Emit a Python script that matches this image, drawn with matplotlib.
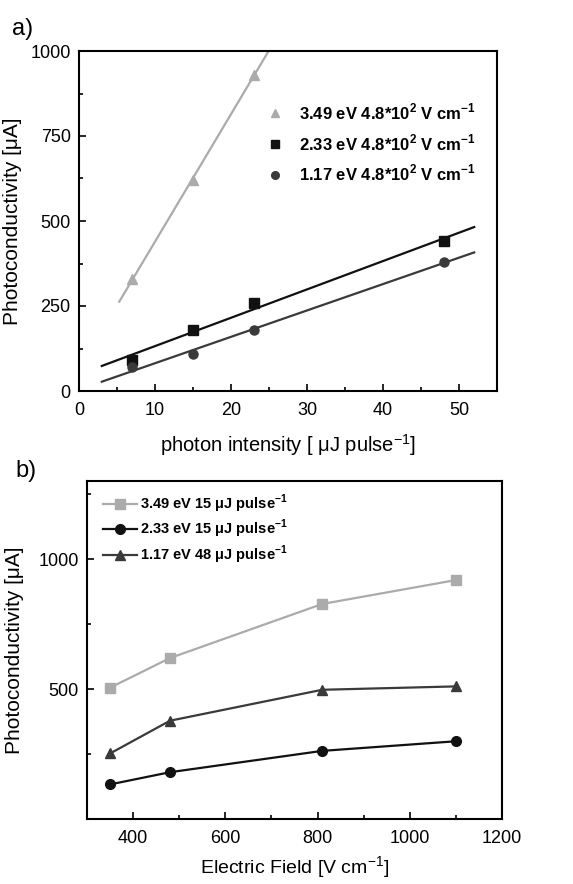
import numpy as np
import matplotlib
matplotlib.use("Agg")
import matplotlib.pyplot as plt
from matplotlib.ticker import MultipleLocator, FixedLocator

plt.rcParams['font.family'] = ['Liberation Sans', 'DejaVu Sans']
plt.rcParams['mathtext.fontset'] = 'custom'
plt.rcParams['mathtext.rm'] = 'Liberation Sans'
plt.rcParams['mathtext.bf'] = 'Liberation Sans:bold'

# ---- panel a data ----
a_labels = ["3.49 eV 4.8*10$^{\\mathbf{2}}$ V cm$^{\\mathbf{-1}}$",
            "2.33 eV 4.8*10$^{\\mathbf{2}}$ V cm$^{\\mathbf{-1}}$",
            "1.17 eV 4.8*10$^{\\mathbf{2}}$ V cm$^{\\mathbf{-1}}$"]
a_x_349 = [7, 15, 23]
a_y_349 = [330, 620, 930]
a_x_233 = [7, 15, 23, 48]
a_y_233 = [90, 180, 260, 440]
a_x_117 = [7, 15, 23, 48]
a_y_117 = [70, 108, 180, 380]
a_fit_range_349 = [5.3, 24.9]
a_fit_range_233 = [3, 52]
a_fit_range_117 = [3, 52]

# ---- panel b data ----
b_labels = ["3.49 eV 15 μJ pulse$^{\\mathbf{-1}}$",
            "2.33 eV 15 μJ pulse$^{\\mathbf{-1}}$",
            "1.17 eV 48 μJ pulse$^{\\mathbf{-1}}$"]
b_field = [350, 480, 810, 1100]
b_y_349 = [505, 619, 827, 919]
b_y_233 = [133, 180, 262, 299]
b_y_117 = [252, 378, 497, 510]

c_light = '#ababab'
c_black = '#111111'
c_dark = '#3a3a3a'

fig = plt.figure(figsize=(5.73, 8.84), dpi=100)
W, H = 573, 884
axa = fig.add_axes([79 / W, 1 - 391 / H, (497 - 79) / W, (391 - 51) / H])
axb = fig.add_axes([87 / W, 1 - 819 / H, (502 - 87) / W, (819 - 481) / H])

def style(ax):
    for s in ax.spines.values():
        s.set_linewidth(1.5)
    ax.tick_params(which='both', direction='in', top=False, right=False,
                   labelsize=13, width=1.2)
    ax.tick_params(which='major', length=5)
    ax.tick_params(which='minor', length=3)
    ax.tick_params(axis='x', which='both', pad=8)
    ax.tick_params(axis='y', which='both', pad=6)

# panel a
series_a = [(a_x_349, a_y_349, a_fit_range_349, c_light, '^', a_labels[0]),
            (a_x_233, a_y_233, a_fit_range_233, c_black, 's', a_labels[1]),
            (a_x_117, a_y_117, a_fit_range_117, c_dark, 'o', a_labels[2])]
handles = []
for xs, ys, rng, col, mk, lab in series_a:
    p = np.polyfit(xs, ys, 1)
    xf = np.array(rng)
    axa.plot(xf, np.polyval(p, xf), color=col, lw=1.6, zorder=2)
    h, = axa.plot(xs, ys, linestyle='none', marker=mk, color=col, ms=6.5,
                  label=lab, zorder=3)
    handles.append(h)
axa.set_xlim(0, 55)
axa.set_ylim(0, 1000)
axa.xaxis.set_major_locator(FixedLocator([0, 10, 20, 30, 40, 50]))
axa.xaxis.set_minor_locator(MultipleLocator(5))
axa.yaxis.set_major_locator(MultipleLocator(250))
axa.yaxis.set_minor_locator(MultipleLocator(125))
style(axa)
axa.set_xlabel("photon intensity [ μJ pulse$^{-1}$]", fontsize=14.5, labelpad=9)
axa.set_ylabel("Photoconductivity [μA]", fontsize=15, labelpad=6)
leg = axa.legend(handles=handles, loc='upper left', bbox_to_anchor=(0.41, 0.895),
                 frameon=False, prop={'weight': 'bold', 'size': 12},
                 handletextpad=0.8, labelspacing=0.6, handlelength=1.2,
                 markerscale=0.85)

# panel b
series_b = [(b_y_349, c_light, 's', b_labels[0]),
            (b_y_233, c_black, 'o', b_labels[1]),
            (b_y_117, c_dark, '^', b_labels[2])]
for ys, col, mk, lab in series_b:
    axb.plot(b_field, ys, color=col, marker=mk, ms=7, lw=1.6, label=lab)
axb.set_xlim(300, 1200)
axb.set_ylim(0, 1300)
axb.xaxis.set_major_locator(FixedLocator([400, 600, 800, 1000, 1200]))
axb.xaxis.set_minor_locator(FixedLocator([500, 700, 900, 1100]))
axb.yaxis.set_major_locator(FixedLocator([500, 1000]))
axb.yaxis.set_minor_locator(FixedLocator([250, 750, 1250]))
style(axb)
axb.set_xlabel("Electric Field [V cm$^{-1}$]", fontsize=14, labelpad=5)
axb.set_ylabel("Photoconductivity [μA]", fontsize=15, labelpad=10)
axb.legend(loc='upper left', bbox_to_anchor=(0.015, 0.995), frameon=False,
           prop={'weight': 'bold', 'size': 10.5},
           handletextpad=0.2, labelspacing=0.2, handlelength=2.3,
           borderaxespad=0.3)

fig.text(12 / W, 1 - 35 / H, "a)", fontsize=17)
fig.text(15 / W, 1 - 477 / H, "b)", fontsize=17)

fig.savefig("out.png", dpi=100)
